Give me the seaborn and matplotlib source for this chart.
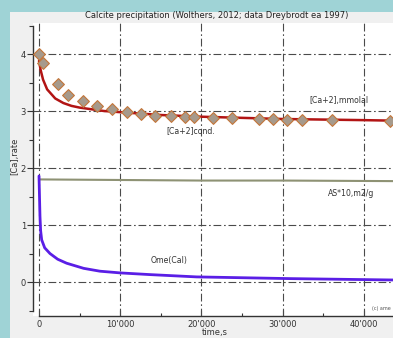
import matplotlib
matplotlib.use("Agg")
import matplotlib.pyplot as plt
from matplotlib.patches import Rectangle
from matplotlib.ticker import MultipleLocator, FuncFormatter
import seaborn as sns
import numpy as np

# ---- data ----
ca_model_t = [0, 200, 500, 1000, 2000, 3000, 4000, 5000, 6000, 8000, 10000, 12000,
              15000, 20000, 25000, 30000, 35000, 40000, 44000]
ca_model_v = [3.88, 3.72, 3.55, 3.38, 3.22, 3.14, 3.09, 3.06, 3.04, 3.00, 2.98, 2.96,
              2.93, 2.90, 2.88, 2.86, 2.85, 2.84, 2.83]

ca_cond_t = [0, 530, 2380, 3610, 5380, 7180, 9030, 10800, 12560, 14320, 16220, 18000,
             19100, 21470, 23730, 27130, 28850, 30540, 32390, 36080, 43260]
ca_cond_v = [4.00, 3.85, 3.47, 3.28, 3.17, 3.09, 3.04, 2.99, 2.95, 2.92, 2.92, 2.90,
             2.90, 2.87, 2.87, 2.86, 2.86, 2.85, 2.85, 2.84, 2.83]

as_t = [0, 10000, 20000, 30000, 44000]
as_v = [1.80, 1.79, 1.78, 1.78, 1.77]

ome_t = [0, 60, 120, 200, 330, 700, 1350, 2300, 3400, 5500, 7500, 10000, 13700,
         19400, 30900, 44000]
ome_v = [1.86, 1.50, 1.15, 0.90, 0.74, 0.60, 0.50, 0.40, 0.33, 0.24, 0.19, 0.16, 0.13,
         0.09, 0.06, 0.035]

title = "Calcite precipitation (Wolthers, 2012; data Dreybrodt ea 1997)"
x_ticks = [0, 10000, 20000, 30000, 40000]
y_ticks = [0, 1, 2, 3, 4]

# ---- style ----
sns.set_style("white")
plt.rcParams['font.family'] = ['DejaVu Sans']

W, H = 393, 338
fig = plt.figure(figsize=(W / 100, H / 100), dpi=100)
fig.patch.set_facecolor("#9fd3d6")
bg = Rectangle((10 / W, 0), 1, (H - 12) / H, transform=fig.transFigure,
               facecolor="#f0f0f0", edgecolor="none", zorder=-10)
fig.patches.append(bg)

ax = fig.add_axes([33 / W, (H - 316) / H, 363 / W, (316 - 23) / H])
ax.set_zorder(5)
ax.set_facecolor("white")

grid_kw = dict(color="#4a4a4a", lw=0.8, linestyle=(0, (7, 2.5, 1.5, 2.5)), zorder=1)
for xv in x_ticks:
    ax.axvline(xv, **grid_kw)
for yv in y_ticks:
    ax.axhline(yv, **grid_kw)

sns.lineplot(x=as_t, y=as_v, ax=ax, color="#8e9274", lw=1.5, zorder=3)
sns.lineplot(x=ome_t, y=ome_v, ax=ax, color="#5a1ee6", lw=2.0, zorder=3)
sns.lineplot(x=ca_model_t, y=ca_model_v, ax=ax, color="#b21414", lw=1.8, zorder=3)
sns.scatterplot(x=ca_cond_t, y=ca_cond_v, ax=ax, marker="D", s=36,
                color="#a69a8c", edgecolor="#c4763a", linewidth=0.8, zorder=4)

ax.set_xlim(-740, 43970)
ax.set_ylim(-0.596, 4.544)

ax.xaxis.set_major_locator(MultipleLocator(10000))
ax.xaxis.set_minor_locator(MultipleLocator(5000))
ax.yaxis.set_major_locator(MultipleLocator(1))
ax.yaxis.set_minor_locator(MultipleLocator(0.5))
ax.xaxis.set_major_formatter(FuncFormatter(lambda v, p: "0" if v == 0 else f"{int(v)//1000}'000"))
ax.yaxis.set_major_formatter(FuncFormatter(lambda v, p: f"{int(round(v))}"))

for s in ["top", "right"]:
    ax.spines[s].set_visible(False)
ax.spines["left"].set_bounds(-0.5, 4.5)
ax.spines["bottom"].set_bounds(0, 44000)
ax.spines["left"].set_color("#333333")
ax.spines["bottom"].set_color("#333333")
ax.spines["left"].set_linewidth(1.0)
ax.spines["bottom"].set_linewidth(1.0)

ax.tick_params(axis="y", which="major", direction="out", length=4, width=0.8,
               labelsize=6, pad=1, colors="#333333", left=True)
ax.tick_params(axis="y", which="minor", direction="out", length=3, width=0.8,
               colors="#333333", left=True)
ax.tick_params(axis="x", which="major", direction="in", length=4, width=0.8,
               labelsize=6, pad=3, colors="#333333", bottom=True)
ax.tick_params(axis="x", which="minor", direction="in", length=2.5, width=0.8,
               colors="#333333", bottom=True)

ax.set_xlabel("time,s", fontsize=6, color="#333333", labelpad=-1)
ax.set_ylabel("[Ca],rate", fontsize=6, color="#333333")
ax.yaxis.set_label_coords(-0.039, 0.545)

fig.text(217 / W, (H - 15) / H, title, fontsize=6.0, color="#222222",
         ha="center", va="center")

tkw = dict(fontsize=5.6, color="#333333", ha="center", va="center")
ax.text(37000, 3.18, "[Ca+2],mmolal", **tkw)
ax.text(18700, 2.65, "[Ca+2]cond.", **tkw)
ax.text(38500, 1.56, "AS*10,m2/g", **tkw)
ax.text(16000, 0.37, "Ome(Cal)", **tkw)
ax.text(41000, -0.46, "(c) ame", fontsize=3.5, color="#555555", ha="left", va="center")

fig.savefig("out.png", dpi=100, facecolor=fig.get_facecolor())
